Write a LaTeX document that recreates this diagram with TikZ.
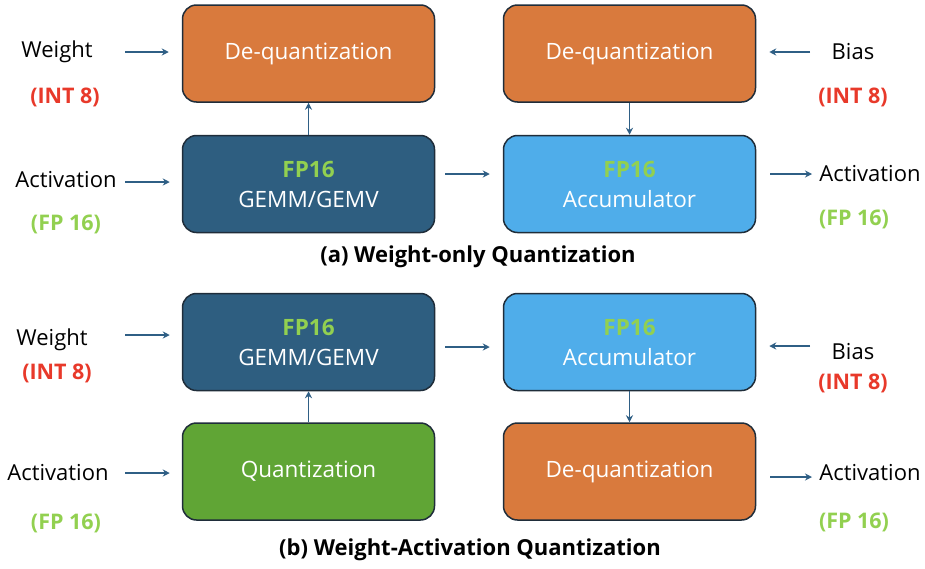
\documentclass[tikz,border=0pt]{standalone}
\usepackage{fontspec}
\setmainfont{Open Sans}
\usetikzlibrary{arrows.meta}

\definecolor{dqorange}{HTML}{D97A3D}
\definecolor{gemmblue}{HTML}{2E5E80}
\definecolor{accblue}{HTML}{4FADEA}
\definecolor{qgreen}{HTML}{60A535}
\definecolor{fpgreen}{HTML}{92D050}
\definecolor{intred}{HTML}{E8392A}
\definecolor{strelkacol}{HTML}{2F5F85}
\definecolor{blokline}{HTML}{1F2D3A}

\tikzset{
  blok/.style={draw=blokline, line width=1.5pt, rounded corners=14pt,
    minimum width=252pt, minimum height=97pt, inner sep=0pt,
    text=white, align=center, font=\fontsize{22.5}{30}\selectfont},
  strelka/.style={draw=strelkacol, line width=1.7pt,
    -{Stealth[length=7pt,width=7pt]}},
  lbl/.style={font=\fontsize{22}{26}\selectfont},
  intlbl/.style={text=intred, font=\bfseries\fontsize{21.5}{26}\selectfont},
  fplbl/.style={text=fpgreen, font=\bfseries\fontsize{21.5}{26}\selectfont},
  podpis/.style={font=\bfseries\fontsize{22}{26}\selectfont}
}

\begin{document}
\begin{tikzpicture}[x=1pt,y=-1pt]
        \useasboundingbox (0,0) rectangle (925,568);

        % Блоки (a)
        \node[blok, fill=dqorange] (dq1) at (308.5,53.5) {De-quantization};
        \node[blok, fill=gemmblue] (gemm1) at (308.5,184) {\textbf{\textcolor{fpgreen}{FP16}}\\GEMM/GEMV};
        \node[blok, fill=dqorange] (dq2) at (629.5,53.5) {De-quantization};
        \node[blok, fill=accblue] (acc1) at (629.5,184) {\textbf{\textcolor{fpgreen}{FP16}}\\Accumulator};

        % Блоки (b)
        \node[blok, fill=gemmblue] (gemm2) at (308.5,342) {\textbf{\textcolor{fpgreen}{FP16}}\\GEMM/GEMV};
        \node[blok, fill=qgreen] (quant) at (308.5,471.5) {Quantization};
        \node[blok, fill=accblue] (acc2) at (629.5,342) {\textbf{\textcolor{fpgreen}{FP16}}\\Accumulator};
        \node[blok, fill=dqorange] (dq3) at (629.5,471.5) {De-quantization};

        % Подписи (a)
        \node[lbl] (wt1) at (57,52) {Weight};
        \node[intlbl] (int1) at (65,97) {(INT 8)};
        \node[lbl] (act1) at (66,180) {Activation};
        \node[fplbl] (fp1) at (66,224) {(FP 16)};
        \node[lbl] (bias1) at (853,52) {Bias};
        \node[intlbl] (int2) at (853,97) {(INT 8)};
        \node[lbl] (act2) at (870,174) {Activation};
        \node[fplbl] (fp2) at (854,219) {(FP 16)};
        \node[podpis] (capA) at (478,257) {(a) Weight-only Quantization};

        % Подписи (b)
        \node[lbl] (wt2) at (52,340) {Weight};
        \node[intlbl] (int3) at (57,373) {(INT 8)};
        \node[lbl] (act3) at (58,473) {Activation};
        \node[fplbl] (fp3) at (66,523) {(FP 16)};
        \node[lbl] (bias2) at (853,352) {Bias};
        \node[intlbl] (int4) at (853,383) {(INT 8)};
        \node[lbl] (act4) at (870,473) {Activation};
        \node[fplbl] (fp4) at (854,522) {(FP 16)};
        \node[podpis] (capB) at (470,550) {(b) Weight-Activation Quantization};

        % Концы стрелок
        \coordinate (wIn1) at (125,52);
        \coordinate (aIn1) at (125,182);
        \coordinate (bIn1) at (810,52);
        \coordinate (aOut1) at (812,174);
        \coordinate (row1) at (0,174);
        \coordinate (wIn2) at (125,335);
        \coordinate (aIn2) at (125,473);
        \coordinate (bIn2) at (810,346);
        \coordinate (aOut2) at (812,477);
        \coordinate (row2) at (0,347);

        % Стрелки (a)
        \draw[strelka, shorten >=13pt] (wIn1) -- (wIn1 -| dq1.west);
        \draw[strelka, shorten >=12pt] (aIn1) -- (aIn1 -| gemm1.west);
        \draw[strelka] (gemm1.north) -- (dq1.south);
        \draw[strelka, shorten <=10pt, shorten >=13pt] (gemm1.east |- row1) -- (acc1.west |- row1);
        \draw[strelka] (dq2.south) -- (acc1.north);
        \draw[strelka, shorten >=13pt] (bIn1) -- (bIn1 -| dq2.east);
        \draw[strelka, shorten <=14pt] (acc1.east |- aOut1) -- (aOut1);

        % Стрелки (b)
        \draw[strelka, shorten >=12pt] (wIn2) -- (wIn2 -| gemm2.west);
        \draw[strelka, shorten >=12pt] (aIn2) -- (aIn2 -| quant.west);
        \draw[strelka] (quant.north) -- (gemm2.south);
        \draw[strelka, shorten <=10pt, shorten >=13pt] (gemm2.east |- row2) -- (acc2.west |- row2);
        \draw[strelka, shorten >=13pt] (bIn2) -- (bIn2 -| acc2.east);
        \draw[strelka] (acc2.south) -- (dq3.north);
        \draw[strelka, shorten <=14pt] (dq3.east |- aOut2) -- (aOut2);
\end{tikzpicture}
\end{document}
